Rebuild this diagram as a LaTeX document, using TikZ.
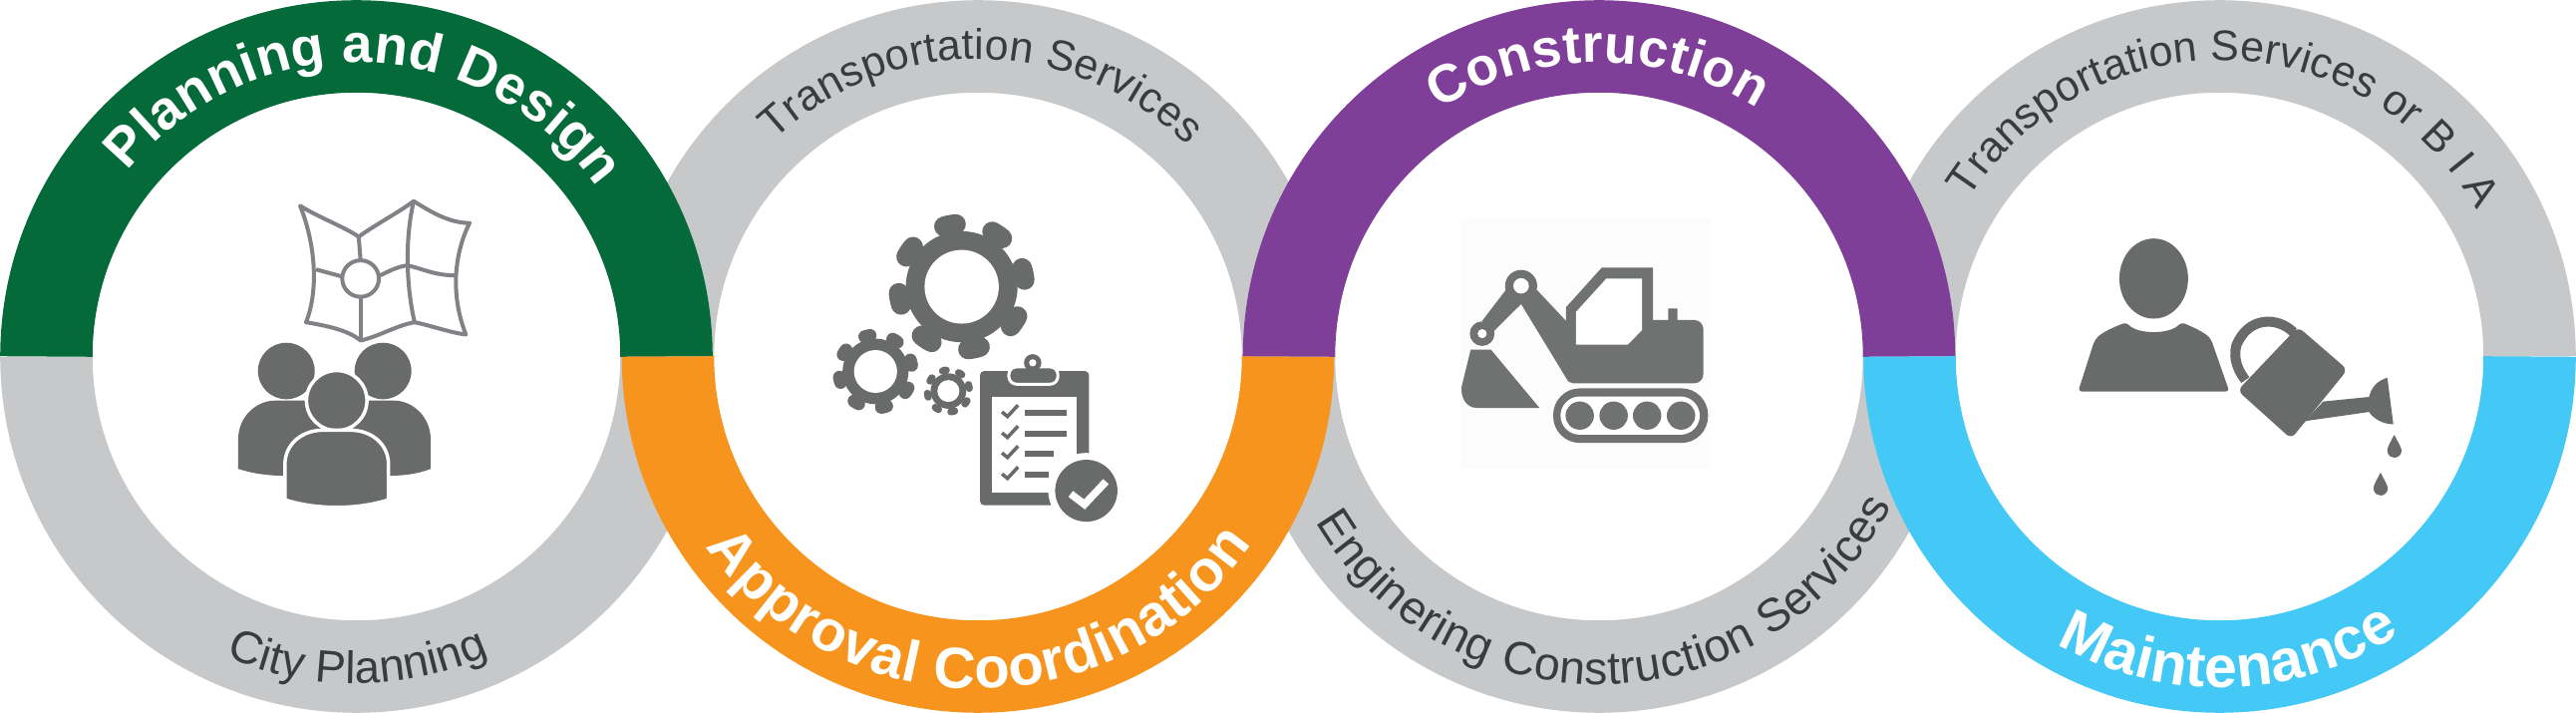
\documentclass[tikz,border=0pt]{standalone}
\usepackage{fontspec}
\setmainfont{Liberation Sans}
\usetikzlibrary{decorations.text}
\definecolor{planninggreen}{HTML}{056A39}
\definecolor{approvalorange}{HTML}{F7941D}
\definecolor{constructionpurple}{HTML}{7F3F98}
\definecolor{maintenanceblue}{HTML}{44C8F5}
\definecolor{bandgray}{HTML}{C7C8CA}
\definecolor{labeldark}{HTML}{3A3B3D}
\definecolor{icongray}{HTML}{696A6A}
\definecolor{maplinegray}{HTML}{808285}
\newcommand{\boldlabel}[1]{\fontsize{#1}{#1}\bfseries\selectfont\color{white}}
\newcommand{\thinlabel}[1]{\fontsize{#1}{#1}\selectfont\color{labeldark}}
\tikzset{
  band/.style={draw=#1,line width=0.925cm},
  ringlabel/.style={decorate,decoration={text along path,text align={fit to path},text={#1}}},
  iconzoom/.style={x=0.004592cm,y=-0.00456cm},
  gearteeth/.style={draw=icongray,line cap=round},
}
\begin{document}
\begin{tikzpicture}[x=0.01cm,y=0.01cm]
\useasboundingbox (0,0) rectangle (2584,715);
\coordinate (c1) at (357.5,357.5);
\coordinate (c2) at (981,357.5);
\coordinate (c3) at (1604,357.5);
\coordinate (c4) at (2226.5,357.5);

\draw[band=bandgray] ([shift={(180:311)}]c1) arc[start angle=180,end angle=360,radius=311];
\draw[band=bandgray] ([shift={(0:311)}]c2) arc[start angle=0,end angle=180,radius=311];
\draw[band=bandgray] ([shift={(180:311)}]c3) arc[start angle=180,end angle=360,radius=311];
\draw[band=bandgray] ([shift={(0:311)}]c4) arc[start angle=0,end angle=180,radius=311];
\draw[band=planninggreen] ([shift={(0:311)}]c1) arc[start angle=0,end angle=180,radius=311];
\draw[band=approvalorange] ([shift={(180:311)}]c2) arc[start angle=180,end angle=360,radius=311];
\draw[band=constructionpurple] ([shift={(0:311)}]c3) arc[start angle=0,end angle=180,radius=311];
\draw[band=maintenanceblue] ([shift={(180:311)}]c4) arc[start angle=180,end angle=360,radius=311];

\path[ringlabel={|\boldlabel{15.5}|Planning and Design}] ([shift={(141:295)}]c1) arc[start angle=141,end angle=35,radius=295];
\path[ringlabel={|\thinlabel{13}|City Planning}] ([shift={(246.5:328)}]c1) arc[start angle=246.5,end angle=294,radius=328];
\path[ringlabel={|\thinlabel{12.2}|Transportation Services}] ([shift={(133.3:298)}]c2) arc[start angle=133.3,end angle=45.3,radius=298];
\path[ringlabel={|\boldlabel{16.5}|Approval Coordination}] ([shift={(215:333)}]c2) arc[start angle=215,end angle=325.6,radius=333];
\path[ringlabel={|\boldlabel{15.2}|Construction}] ([shift={(123:295)}]c3) arc[start angle=123,end angle=57.5,radius=295];
\path[ringlabel={|\thinlabel{13.2}|Enginering Construction Services}] ([shift={(210.3:329)}]c3) arc[start angle=210.3,end angle=333,radius=329];
\path[ringlabel={|\thinlabel{12.2}|Transportation Services or B I A}] ([shift={(147.8:297)}]c4) arc[start angle=147.8,end angle=29.7,radius=297];
\path[ringlabel={|\boldlabel{16.8}|Maintenance}] ([shift={(240.4:332)}]c4) arc[start angle=240.4,end angle=303,radius=332];

\begin{scope}[shift={(0,715)},iconzoom]
\draw[maplinegray,line width=0.04cm,line join=round] (655,452) .. controls (700,480) and (745,495) .. (783,520) .. controls (825,490) and (865,470) .. (903,442) .. controls (940,465) and (980,490) .. (1025,490) .. controls (995,550) and (980,640) .. (1017,735) .. controls (980,730) and (940,715) .. (905,708) .. controls (865,715) and (825,740) .. (787,748) .. controls (760,725) and (710,715) .. (668,708) .. controls (695,640) and (690,540) .. (655,452) -- cycle;
\draw[maplinegray,line width=0.04cm] (903,442) .. controls (885,520) and (885,620) .. (905,708);
\draw[maplinegray,line width=0.04cm] (783,520) -- (787,572);
\draw[maplinegray,line width=0.04cm] (787,612) circle[radius=40];
\draw[maplinegray,line width=0.04cm] (787,652) -- (787,748);
\draw[maplinegray,line width=0.04cm] (690,592) -- (745,607);
\draw[maplinegray,line width=0.04cm] (830,605) .. controls (850,595) and (870,585) .. (890,583) .. controls (920,590) and (950,605) .. (992,605);
\fill[icongray] (625,815) circle[radius=62];
\fill[icongray] (836,815) circle[radius=62];
\fill[icongray] (520,1030) -- (520,965) .. controls (520,915) and (560,880) .. (600,880) -- (700,880) -- (700,1050) -- (620,1045) .. controls (585,1045) and (550,1040) .. (520,1030) -- cycle;
\fill[icongray] (940,1030) -- (940,965) .. controls (940,915) and (900,880) .. (860,880) -- (770,880) -- (770,1050) -- (850,1045) .. controls (885,1045) and (915,1040) .. (940,1030) -- cycle;
\filldraw[fill=icongray,draw=white,line width=0.035cm] (735,880) circle[radius=66];
\filldraw[fill=icongray,draw=white,line width=0.035cm] (622,1098) -- (622,1020) .. controls (622,975) and (660,945) .. (705,945) -- (765,945) .. controls (810,945) and (848,975) .. (848,1020) -- (848,1098) .. controls (780,1120) and (690,1120) .. (622,1098) -- cycle;
\end{scope}

\begin{scope}[shift={(620,715)},iconzoom]
\draw[gearteeth,line width=0.2cm,dash pattern=on 0.12cm off 0.3777cm,rotate around={17.1:(750,630)}] (750,630) circle[radius=138];
\fill[icongray] (750,630) circle[radius=122];
\fill[white] (750,630) circle[radius=81];
\draw[gearteeth,line width=0.128cm,dash pattern=on 0.055cm off 0.2336cm,rotate around={18.2:(562,816)}] (562,816) circle[radius=80];
\fill[icongray] (562,816) circle[radius=72];
\fill[white] (562,816) circle[radius=47];
\draw[gearteeth,line width=0.073cm,dash pattern=on 0.037cm off 0.129cm,rotate around={17.5:(721,859)}] (721,859) circle[radius=46];
\fill[icongray] (721,859) circle[radius=39];
\fill[white] (721,859) circle[radius=24];
\fill[icongray,rounded corners=1.2pt] (790,815) rectangle (1028,1110);
\fill[white] (815,872) rectangle (1002,1082);
\filldraw[fill=icongray,draw=white,line width=0.03cm,rounded corners=2.2pt] (853,806) rectangle (960,844);
\fill[icongray] (905,797) circle[radius=19];
\fill[white] (905,797) circle[radius=8];
\draw[icongray,line width=0.055cm] (887,907) -- (980,907);
\draw[icongray,line width=0.055cm] (887,953) -- (980,953);
\draw[icongray,line width=0.055cm] (887,997) -- (950,997);
\draw[icongray,line width=0.055cm] (887,1043) -- (940,1043);
\draw[icongray,line width=0.035cm] (838,905) -- (850,915) -- (873,890);
\draw[icongray,line width=0.035cm] (838,951) -- (850,961) -- (873,936);
\draw[icongray,line width=0.035cm] (838,995) -- (850,1005) -- (873,980);
\draw[icongray,line width=0.035cm] (838,1041) -- (850,1051) -- (873,1026);
\fill[white] (1022,1078) circle[radius=83];
\fill[icongray] (1022,1078) circle[radius=68];
\draw[white,line width=0.075cm] (988,1085) -- (1018,1108) -- (1065,1058);
\end{scope}

\begin{scope}[shift={(1240,715)},iconzoom]
\fill[black!1] (490,480) rectangle (1035,1030);
\fill[icongray!95!white] (720,675) -- (798,588) -- (910,588) -- (910,703) -- (943,703) -- (943,678) -- (963,678) -- (963,703) -- (1000,703) .. controls (1012,703) and (1020,713) .. (1020,725) -- (1020,820) .. controls (1020,833) and (1012,842) .. (1000,842) -- (735,842) .. controls (728,842) and (724,838) .. (720,830) -- (622,668) -- (562,728) -- (537,705) -- (590,635) -- (650,630) -- (720,705) -- cycle;
\fill[icongray!95!white] (622,628) circle[radius=35];
\fill[white] (622,628) circle[radius=17];
\fill[icongray!95!white] (537,733) circle[radius=27];
\fill[white] (537,733) circle[radius=10];
\fill[white] (742,685) -- (808,612) -- (886,612) -- (886,725) -- (855,757) -- (742,757) -- cycle;
\fill[icongray!95!white] (512,768) -- (556,768) -- (662,896) -- (525,896) .. controls (500,896) and (490,870) .. (492,850) -- cycle;
\fill[icongray!95!white,rounded corners=7.6pt] (692,853) rectangle (1030,973);
\fill[white,rounded corners=5.5pt] (708,871) rectangle (1012,955);
\fill[icongray!95!white] (750,913) circle[radius=31];
\fill[icongray!95!white] (824,913) circle[radius=31];
\fill[icongray!95!white] (897,913) circle[radius=31];
\fill[icongray!95!white] (971,913) circle[radius=31];
\end{scope}

\begin{scope}[shift={(1864,715)},iconzoom]
\fill[icongray] (645,612) ellipse[x radius=75,y radius=88];
\fill[icongray,rounded corners=1pt] (480,860) -- (515,750) .. controls (530,730) and (560,718) .. (585,708) .. controls (610,735) and (680,735) .. (705,708) .. controls (730,718) and (755,730) .. (770,745) -- (810,860) -- cycle;
\draw[icongray,line width=0.1cm] (950,730) .. controls (915,695) and (850,695) .. (825,760) .. controls (818,790) and (830,815) .. (845,835);
\fill[icongray,rounded corners=1.8pt] (960,718) -- (1068,812) -- (945,964) -- (828,858) -- cycle;
\fill[icongray] (1015,882) -- (1115,872) .. controls (1120,850) and (1135,835) .. (1155,830) -- (1168,932) .. controls (1145,932) and (1125,920) .. (1115,905) -- (975,925) -- cycle;
\fill[icongray] (1170,955) .. controls (1160,975) and (1153,985) .. (1155,992) .. controls (1158,1010) and (1182,1010) .. (1186,992) .. controls (1187,985) and (1180,975) .. (1170,955) -- cycle;
\fill[icongray] (1140,1038) .. controls (1130,1058) and (1123,1068) .. (1125,1075) .. controls (1128,1093) and (1152,1093) .. (1156,1075) .. controls (1157,1068) and (1150,1058) .. (1140,1038) -- cycle;
\end{scope}
\end{tikzpicture}
\end{document}
